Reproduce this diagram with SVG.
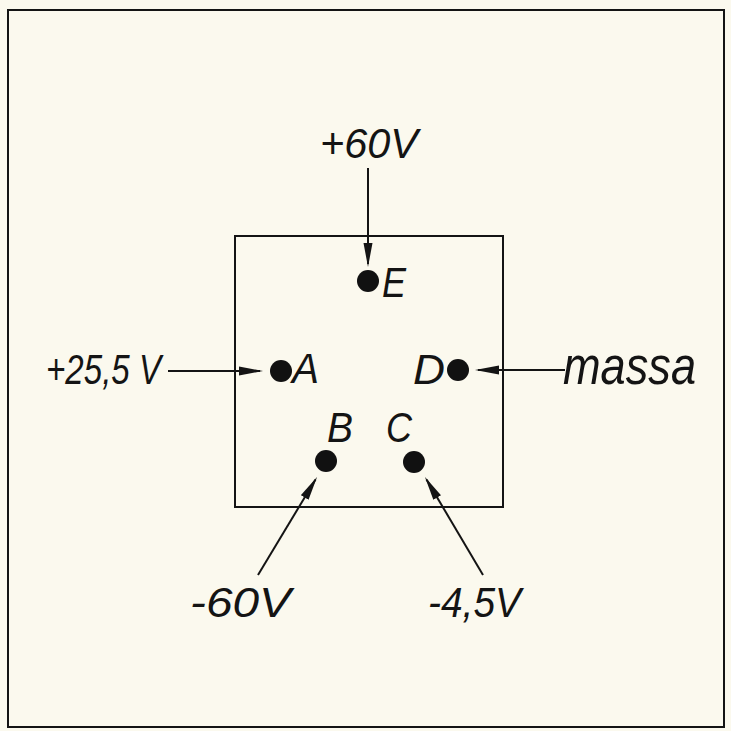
<svg xmlns="http://www.w3.org/2000/svg" width="731" height="731" viewBox="0 0 731 731">
  <style>
    .lbl { font-family: "Liberation Sans", Arial, sans-serif; font-style: italic; font-size: 43px; fill: #141414; }
    .ln { stroke: #141414; stroke-width: 2; fill: none; }
    .dot { fill: #111; }
  </style>
  <defs>
    <marker id="ah" viewBox="0 0 24 10" refX="21" refY="5" markerWidth="24" markerHeight="10" markerUnits="userSpaceOnUse" orient="auto">
      <path d="M0,0.5 L24,5 L0,9.5 Z" fill="#141414"/>
    </marker>
  </defs>
  <rect x="0" y="0" width="731" height="731" fill="#fbf9ee"/>
  <rect x="8" y="10" width="716" height="717" class="ln" stroke-width="2.5"/>
  <rect id="box" x="235" y="236" width="268" height="271" class="ln"/>

  <g id="connectors">
    <line x1="368" y1="168" x2="368" y2="264" class="ln" marker-end="url(#ah)"/>
    <line x1="168" y1="371" x2="260" y2="371" class="ln" marker-end="url(#ah)"/>
    <line x1="565" y1="370" x2="478" y2="370" class="ln" marker-end="url(#ah)"/>
    <line x1="258" y1="575" x2="315.5" y2="479.5" class="ln" marker-end="url(#ah)"/>
    <line x1="483" y1="575" x2="426.5" y2="479.5" class="ln" marker-end="url(#ah)"/>
  </g>

  <g id="node-E">
    <circle cx="368" cy="281" r="11" class="dot"/>
    <text x="382" y="297" class="lbl" textLength="24" lengthAdjust="spacingAndGlyphs">E</text>
  </g>
  <g id="node-A">
    <circle cx="281" cy="371" r="11" class="dot"/>
    <text x="292" y="383" class="lbl" textLength="27" lengthAdjust="spacingAndGlyphs">A</text>
  </g>
  <g id="node-D">
    <circle cx="458" cy="370" r="11" class="dot"/>
    <text x="413" y="384" class="lbl" textLength="32" lengthAdjust="spacingAndGlyphs">D</text>
  </g>
  <g id="node-B">
    <circle cx="326" cy="461" r="11" class="dot"/>
    <text x="327" y="442" class="lbl" textLength="26" lengthAdjust="spacingAndGlyphs">B</text>
  </g>
  <g id="node-C">
    <circle cx="414" cy="462" r="11" class="dot"/>
    <text x="386" y="442" class="lbl" textLength="26" lengthAdjust="spacingAndGlyphs">C</text>
  </g>

  <g id="label-p60">
    <text x="320" y="158" class="lbl" textLength="98" lengthAdjust="spacingAndGlyphs">+60V</text>
  </g>
  <g id="label-p255">
    <text x="46" y="384" class="lbl" textLength="115" lengthAdjust="spacingAndGlyphs">+25,5 V</text>
  </g>
  <g id="label-massa">
    <text x="563" y="384" class="lbl" style="font-size:54px" textLength="133" lengthAdjust="spacingAndGlyphs">massa</text>
  </g>
  <g id="label-m60">
    <text x="190" y="617" class="lbl" textLength="101" lengthAdjust="spacingAndGlyphs">-60V</text>
  </g>
  <g id="label-m45">
    <text x="428" y="617" class="lbl" textLength="93" lengthAdjust="spacingAndGlyphs">-4,5V</text>
  </g>
</svg>
